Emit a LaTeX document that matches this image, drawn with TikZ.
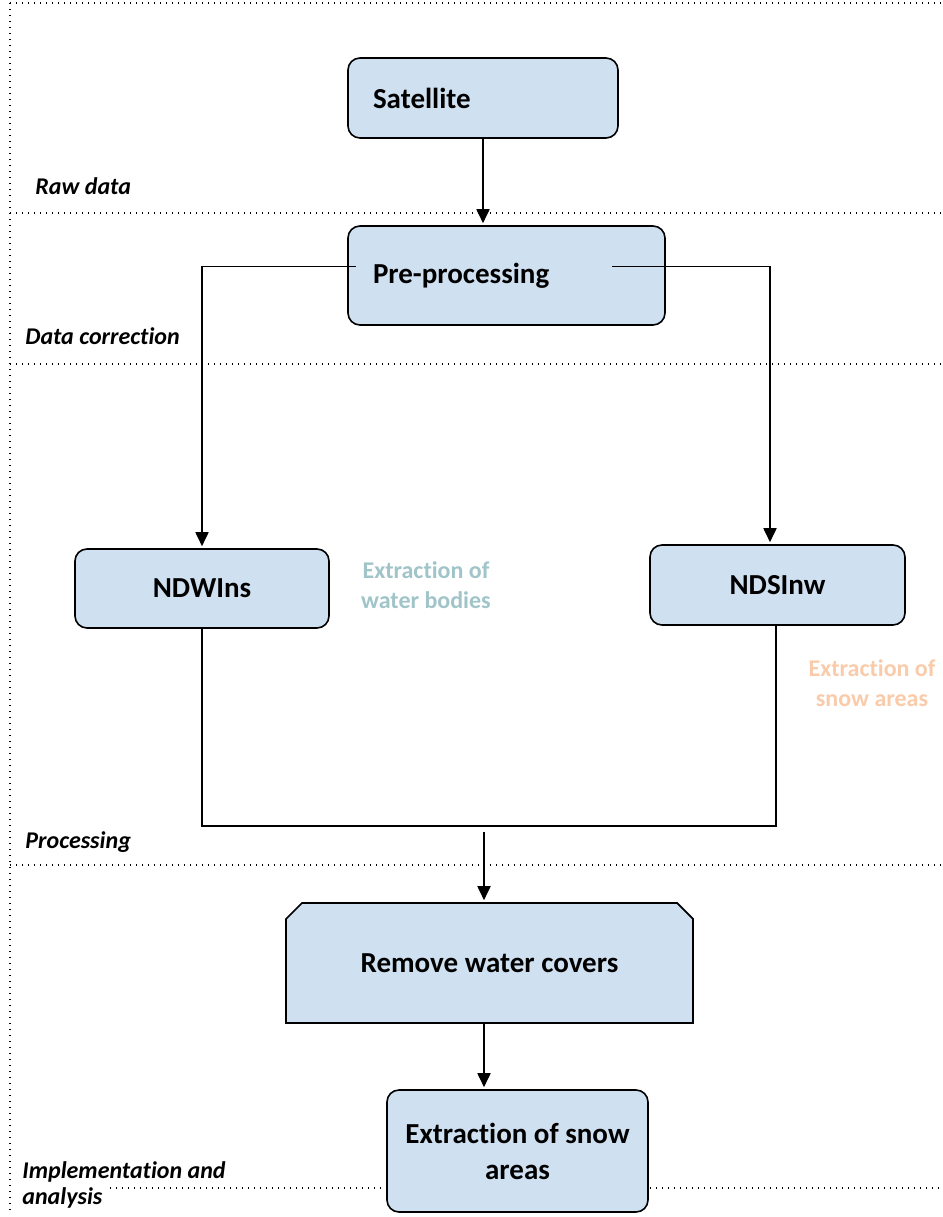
\documentclass[tikz,border=0pt]{standalone}
\usepackage{fontspec}
\setmainfont{Carlito}[Ligatures=NoCommon]
\usetikzlibrary{arrows.meta}
\usetikzlibrary{shapes.misc}
\definecolor{boxblue}{RGB}{207,224,241}
\definecolor{watergray}{RGB}{160,196,200}
\definecolor{snowpeach}{RGB}{249,203,170}

\begin{document}
\begin{tikzpicture}[x=0.5pt,y=-0.5pt,
    stepbox/.style={draw,rounded corners=6pt,fill=boxblue,line width=0.8pt,
      font=\bfseries\fontsize{14.5}{18}\selectfont,align=center,inner sep=0pt},
    sep/.style={line width=0.7pt,dash pattern=on 0.7pt off 2.3pt},
    phase/.style={anchor=west,inner sep=1pt,align=left,
      font=\bfseries\itshape\fontsize{12}{13}\selectfont},
    note/.style={align=center,font=\bfseries\fontsize{12}{15}\selectfont},
    arr/.style={-{Triangle[length=7pt,width=6.5pt]},line width=0.9pt,shorten >=1pt},
    link/.style={line width=0.9pt}]
    \useasboundingbox (0,0) rectangle (943,1217);
    % phase separators
    \draw[sep] (10,3) -- (943,3);
    \draw[sep] (10,3) -- (10,1210);
    \foreach \y in {213,364,865}
      \draw[sep] (10,\y) -- (943,\y);
    \draw[sep] (110,1188) -- (943,1188);
    % boxes
    \node[stepbox,minimum width=135pt,minimum height=40pt,text width=110pt,
      inner xsep=12.5pt,align=left] (sat) at (483,98) {Satellite};
    \node[stepbox,minimum width=158.5pt,minimum height=49.5pt,text width=133.5pt,
      inner xsep=12.5pt,align=left] (pre) at (506.5,275.5) {Pre-processing};
    \node[stepbox,minimum width=127pt,minimum height=39.5pt] (ndwi) at (202,588.5) {NDWIns};
    \node[stepbox,minimum width=127.5pt,minimum height=40pt] (ndsi) at (777.5,585) {NDSInw};
    \node[stepbox,rounded corners=0pt,chamfered rectangle,
      chamfered rectangle corners={north west,north east},chamfered rectangle xsep=10pt,
      minimum width=203.5pt,minimum height=60pt] (rwc) at (489.5,963) {Remove water covers};
    \node[stepbox,minimum width=130.5pt,minimum height=61pt] (ext) at (517.5,1151)
      {Extraction of snow\\areas};
    % side notes
    \node[note,text=watergray] (wnote) at (426,585) {Extraction of\\water bodies};
    \node[note,text=snowpeach] (snote) at (872,683) {Extraction of\\snow areas};
    % phase labels
    \node[phase] (raw) at (33,186) {Raw data};
    \node[phase] (cor) at (23,336) {Data correction};
    \node[phase] (proc) at (23,842) {Processing};
    \node[phase] (impl) at (20,1185) {Implementation and\\analysis};
    % connectors
    \coordinate (join) at (484,826);
    \coordinate (drop) at (484,832);
    \draw[arr] (sat.south) -- (sat.south |- pre.north);
    \draw[arr] ([xshift=4.5pt,yshift=4.5pt]pre.west) -| (ndwi.north);
    \draw[arr] ([xshift=-27pt,yshift=4.5pt]pre.east) -| ([xshift=-3.75pt]ndsi.north);
    \draw[link] (ndwi.south) |- (join) -| ([xshift=-0.75pt]ndsi.south);
    \draw[arr] (drop) -- (drop |- rwc.north);
    \draw[arr] (drop |- rwc.south) -- (drop |- ext.north);
  \end{tikzpicture}
\end{document}
